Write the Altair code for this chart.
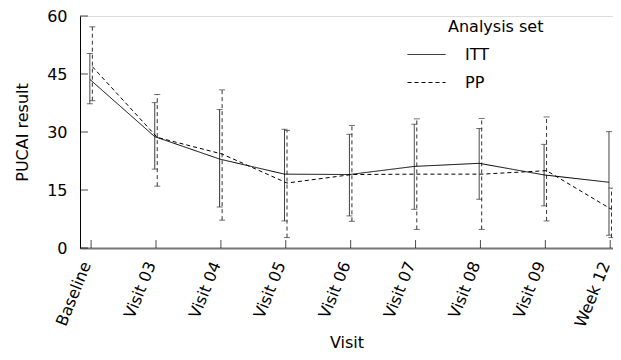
import altair as alt
import pandas as pd

visits = ["Baseline", "Visit 03", "Visit 04", "Visit 05", "Visit 06",
          "Visit 07", "Visit 08", "Visit 09", "Week 12"]
itt_mean = [43.6, 28.8, 23.0, 19.1, 19.0, 21.1, 21.9, 18.9, 17.0]
itt_low = [37.3, 20.4, 10.6, 7.0, 8.3, 10.0, 12.6, 10.9, 3.3]
itt_high = [50.3, 37.6, 35.8, 30.7, 29.4, 32.0, 30.9, 26.8, 30.1]
pp_mean = [46.9, 28.6, 24.3, 16.8, 19.0, 19.1, 19.1, 20.0, 10.0]
pp_low = [38.1, 16.0, 7.2, 2.7, 6.9, 4.8, 4.8, 7.0, 2.7]
pp_high = [57.2, 39.7, 40.9, 30.4, 31.7, 33.4, 33.5, 33.9, 15.5]
y_ticks = [0, 15, 30, 45, 60]
sets = ["ITT", "PP"]

rows = []
for i, v in enumerate(visits):
    rows.append({"visit": v, "set": "ITT", "mean": itt_mean[i], "low": itt_low[i], "high": itt_high[i]})
    rows.append({"visit": v, "set": "PP", "mean": pp_mean[i], "low": pp_low[i], "high": pp_high[i]})
df = pd.DataFrame(rows)
ytick_df = pd.DataFrame({"mean": y_ticks})
xtick_df = pd.DataFrame({"visit": visits})

FONT = "DejaVu Sans"
H = 232

x_scale = alt.Scale(type="point", padding=0.107, align=0.8, domain=visits)
x = alt.X("visit:N", sort=visits, title="Visit", scale=x_scale,
          axis=alt.Axis(labelAngle=292, labelFontSize=16, titleFontSize=16,
                        labelFont=FONT, titleFont=FONT, titleFontWeight="normal",
                        labelColor="black", titleColor="black",
                        domainColor="#777777", domainWidth=2,
                        ticks=False, labelPadding=14, labelOffset=-5,
                        titlePadding=5))
xo = alt.XOffset("set:N", scale=alt.Scale(domain=sets, range=[-2.5, 2.5]))
y_scale = alt.Scale(domain=[0, 60], nice=False)
y = alt.Y("mean:Q", title="PUCAI result", scale=y_scale,
          axis=alt.Axis(values=y_ticks, labelFontSize=16, titleFontSize=16,
                        labelFont=FONT, titleFont=FONT, titleFontWeight="normal",
                        labelColor="black", titleColor="black",
                        domainColor="black", ticks=False,
                        labelPadding=13, titlePadding=16, grid=False))

dash = alt.StrokeDash(
    "set:N", scale=alt.Scale(domain=sets, range=[[1, 0], [4, 3]]),
    legend=alt.Legend(title="Analysis set", orient="none",
                      legendX=368, legendY=3,
                      symbolType="stroke", symbolSize=1444,
                      symbolStrokeColor="black", symbolStrokeWidth=1,
                      symbolOffset=-41, labelOffset=19,
                      titleFont=FONT, labelFont=FONT,
                      titleFontSize=16, labelFontSize=16,
                      titleFontWeight="normal",
                      titleColor="black", labelColor="black",
                      rowPadding=-2, titlePadding=0))

lines = alt.Chart(df).mark_line(color="black", strokeWidth=1).encode(
    x=x, xOffset=xo, y=y, strokeDash=dash)

bars = alt.Chart(df).mark_rule(color="#333333", strokeWidth=1).encode(
    x=x, xOffset=xo, y=alt.Y("low:Q"), y2="high:Q", strokeDash=dash)

caps_low = alt.Chart(df).mark_tick(color="#333333", thickness=1, size=6, orient="horizontal").encode(
    x=x, xOffset=xo, y=alt.Y("low:Q"))
caps_high = alt.Chart(df).mark_tick(color="#333333", thickness=1, size=6, orient="horizontal").encode(
    x=x, xOffset=xo, y=alt.Y("high:Q"))

yticks = alt.Chart(ytick_df).mark_tick(color="black", thickness=1, size=8, orient="horizontal").encode(
    x=alt.value(4), y=y)
xticks = alt.Chart(xtick_df).mark_tick(color="black", thickness=1, size=8, orient="vertical").encode(
    x=x, y=alt.value(H - 4))

chart = alt.layer(bars, caps_low, caps_high, lines, yticks, xticks).properties(
    width=533, height=H,
    autosize=alt.AutoSizeParams(type="none"),
    padding={"left": 72, "top": 8, "right": 0, "bottom": 103},
).configure_view(stroke=None).configure(background="white")

chart.save("out.html", embed_options={"renderer": "svg", "actions": False})
